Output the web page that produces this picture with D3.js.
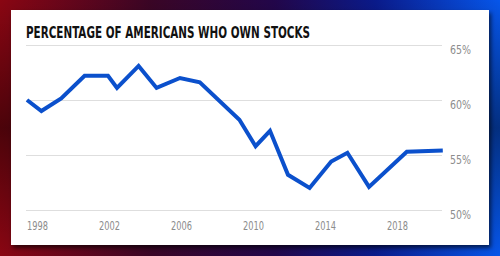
<!DOCTYPE html>
<html>
<head>
  <meta charset="utf-8" />
  <title>Percentage of Americans Who Own Stocks</title>
  <script src="https://cdnjs.cloudflare.com/ajax/libs/d3/7.8.5/d3.min.js"></script>
  <style>
    html, body { margin: 0; padding: 0; background: #000; }
    svg { display: block; }
    .tick-label { font-family: "Liberation Sans Narrow", "DejaVu Sans Condensed", "Roboto", sans-serif; font-size: 12px; fill: #8c8c8c; }
    .title { font-family: "Liberation Sans Narrow", "DejaVu Sans Condensed", sans-serif; font-weight: bold; font-size: 16.5px; fill: #111; }
  </style>
</head>
<body>
  <svg id="chart" width="500" height="256"></svg>
  <script>
    // survey dates (decimal years) and share of adults owning stock (%)
    var years = [1998.0, 1998.8, 1999.9, 2001.2, 2002.5, 2003.0, 2004.2, 2005.2, 2006.5, 2007.6,
                 2009.8, 2010.7, 2011.5, 2012.5, 2013.7, 2014.9, 2015.8, 2017.0, 2019.1, 2021.1];
    var ownership = [60.0, 59.0, 60.15, 62.2, 62.2, 61.1, 63.1, 61.1, 62.0, 61.6,
                     58.2, 55.8, 57.2, 53.2, 52.0, 54.4, 55.2, 52.1, 55.3, 55.4];
    var yearTicks = [1998, 2002, 2006, 2010, 2014, 2018];
    var pctTicks = [50, 55, 60, 65];

    var svg = d3.select('#chart');
    var defs = svg.append('defs');

    // background gradient, red on the left to blue on the right
    var bg = defs.append('linearGradient').attr('id', 'bg')
      .attr('x1', '0%').attr('y1', '0%').attr('x2', '100%').attr('y2', '0%');
    [['0%', '#8a0612'], ['30%', '#3a0525'], ['55%', '#22064a'], ['75%', '#0a1a8a'], ['100%', '#0656ea']]
      .forEach(function (s) { bg.append('stop').attr('offset', s[0]).attr('stop-color', s[1]); });

    var vshade = defs.append('linearGradient').attr('id', 'vshade')
      .attr('x1', '0%').attr('y1', '0%').attr('x2', '0%').attr('y2', '100%');
    [['0%', 0.0], ['50%', 0.45], ['100%', 0.0]]
      .forEach(function (s) { vshade.append('stop').attr('offset', s[0]).attr('stop-color', '#000').attr('stop-opacity', s[1]); });

    var shadow = defs.append('filter').attr('id', 'shadow')
      .attr('x', '-5%').attr('y', '-5%').attr('width', '115%').attr('height', '120%');
    shadow.append('feDropShadow').attr('dx', 2).attr('dy', 3).attr('stdDeviation', 2)
      .attr('flood-color', '#000').attr('flood-opacity', 0.6);

    svg.append('rect').attr('width', 500).attr('height', 256).attr('fill', 'url(#bg)');
    svg.append('rect').attr('width', 500).attr('height', 256).attr('fill', 'url(#vshade)');

    // white card
    svg.append('rect')
      .attr('x', 11).attr('y', 10).attr('width', 478).attr('height', 235)
      .attr('fill', '#fff').attr('filter', 'url(#shadow)');

    var x = d3.scaleLinear().domain([1998, 2022]).range([27, 459]);
    var y = d3.scaleLinear().domain([50, 65]).range([210, 45]);
    var gridLeft = 26, gridRight = 442;

    svg.append('text').attr('class', 'title')
      .attr('x', 26).attr('y', 37.5)
      .attr('textLength', 284).attr('lengthAdjust', 'spacingAndGlyphs')
      .text('PERCENTAGE OF AMERICANS WHO OWN STOCKS');

    // horizontal gridlines with right-hand labels
    var grid = svg.append('g');
    grid.selectAll('line').data(pctTicks).enter().append('line')
      .attr('x1', gridLeft).attr('x2', gridRight)
      .attr('y1', function (d) { return Math.round(y(d)) + 0.5; })
      .attr('y2', function (d) { return Math.round(y(d)) + 0.5; })
      .attr('stroke', '#dedede').attr('stroke-width', 1);
    grid.selectAll('text').data(pctTicks).enter().append('text')
      .attr('class', 'tick-label')
      .attr('x', 450)
      .attr('y', function (d) { return y(d) + 8.5; })
      .attr('textLength', 21).attr('lengthAdjust', 'spacingAndGlyphs')
      .text(function (d) { return d + '%'; });

    // year labels
    svg.append('g').selectAll('text').data(yearTicks).enter().append('text')
      .attr('class', 'tick-label')
      .attr('x', function (d) { return x(d); })
      .attr('y', 230)
      .attr('textLength', 21).attr('lengthAdjust', 'spacingAndGlyphs')
      .text(function (d) { return d; });

    var line = d3.line()
      .x(function (d, i) { return x(years[i]); })
      .y(function (d) { return y(d); });

    svg.append('path')
      .datum(ownership)
      .attr('d', line)
      .attr('fill', 'none')
      .attr('stroke', '#0b50cc')
      .attr('stroke-width', 4)
      .attr('stroke-linejoin', 'miter');
  </script>
</body>
</html>
